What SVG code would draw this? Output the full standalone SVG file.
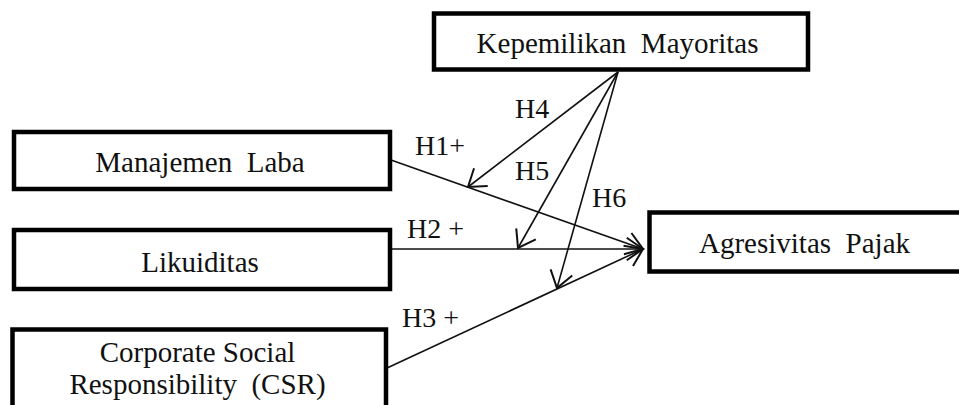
<svg xmlns="http://www.w3.org/2000/svg" width="959" height="405" viewBox="0 0 959 405">
<defs>
<style>
.box{fill:#fff;stroke:#000;stroke-width:4.5}
.t{font-family:"Liberation Serif","Times New Roman",serif;font-size:29px;fill:#111;text-anchor:middle;white-space:pre}
.lbl{font-family:"Liberation Serif","Times New Roman",serif;font-size:28px;fill:#111;white-space:pre}
.c{stroke:#111;stroke-width:1.6;fill:none}
</style>
<marker id="arr" markerUnits="userSpaceOnUse" markerWidth="30" markerHeight="30" viewBox="-16 -12 20 24" refX="0" refY="0" orient="auto" overflow="visible">
<path d="M -13 -9 L 0 0 L -13 9" fill="none" stroke="#111" stroke-width="1.6"/>
</marker>
</defs>
<rect width="959" height="405" fill="#fff"/>
<g id="connectors">
<line class="c" x1="391" y1="160" x2="643" y2="249" marker-end="url(#arr)"/>
<line class="c" x1="391" y1="249" x2="643" y2="249" marker-end="url(#arr)"/>
<line class="c" x1="387" y1="368" x2="643" y2="249" marker-end="url(#arr)"/>
<line class="c" x1="618" y1="72" x2="468" y2="187" marker-end="url(#arr)"/>
<line class="c" x1="618" y1="72" x2="518" y2="248" marker-end="url(#arr)"/>
<line class="c" x1="618" y1="72" x2="557" y2="288" marker-end="url(#arr)"/>
<text class="lbl" x="415" y="155">H1+</text>
<text class="lbl" x="407" y="238">H2 +</text>
<text class="lbl" x="402" y="327">H3 +</text>
<text class="lbl" x="515" y="118">H4</text>
<text class="lbl" x="515" y="180">H5</text>
<text class="lbl" x="592" y="207">H6</text>
</g>
<g id="kepemilikan">
<rect class="box" x="434" y="13.5" width="374" height="56"/>
<text class="t" x="617.5" y="53">Kepemilikan  Mayoritas</text>
</g>
<g id="manajemen">
<rect class="box" x="14" y="132" width="376" height="57"/>
<text class="t" x="200" y="172">Manajemen  Laba</text>
</g>
<g id="likuiditas">
<rect class="box" x="14" y="230" width="376" height="59"/>
<text class="t" x="200" y="272">Likuiditas</text>
</g>
<g id="csr">
<rect class="box" x="12.5" y="329.5" width="373.5" height="100"/>
<text class="t" x="197.5" y="362">Corporate Social</text>
<text class="t" x="197.5" y="394">Responsibility  (CSR)</text>
</g>
<g id="agresivitas">
<rect class="box" x="649.5" y="212.5" width="330" height="59"/>
<text class="t" x="804.5" y="253">Agresivitas  Pajak</text>
</g>
</svg>
